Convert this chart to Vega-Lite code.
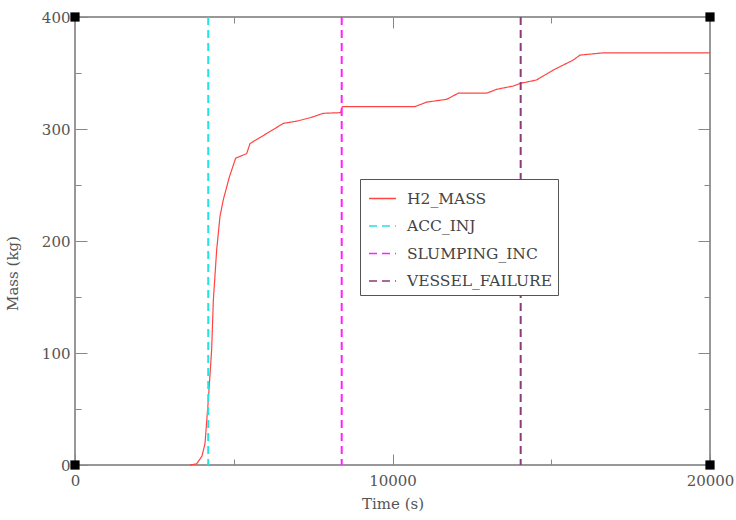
{
  "$schema": "https://vega.github.io/schema/vega-lite/v6.json",
  "width": 635,
  "height": 448,
  "autosize": {"type": "none"},
  "padding": {"left": 75, "top": 17, "right": 26, "bottom": 55},
  "background": "white",
  "datasets": {
    "h2": [
      {"t": 3620, "m": 0, "s": "H2_MASS"},
      {"t": 3830, "m": 1, "s": "H2_MASS"},
      {"t": 4000, "m": 8, "s": "H2_MASS"},
      {"t": 4094, "m": 19, "s": "H2_MASS"},
      {"t": 4199, "m": 58, "s": "H2_MASS"},
      {"t": 4304, "m": 103, "s": "H2_MASS"},
      {"t": 4357, "m": 147, "s": "H2_MASS"},
      {"t": 4462, "m": 192, "s": "H2_MASS"},
      {"t": 4567, "m": 222, "s": "H2_MASS"},
      {"t": 4672, "m": 237, "s": "H2_MASS"},
      {"t": 4861, "m": 257, "s": "H2_MASS"},
      {"t": 5060, "m": 274, "s": "H2_MASS"},
      {"t": 5407, "m": 278, "s": "H2_MASS"},
      {"t": 5512, "m": 287, "s": "H2_MASS"},
      {"t": 6037, "m": 296, "s": "H2_MASS"},
      {"t": 6562, "m": 305, "s": "H2_MASS"},
      {"t": 6982, "m": 307, "s": "H2_MASS"},
      {"t": 7402, "m": 310, "s": "H2_MASS"},
      {"t": 7822, "m": 314, "s": "H2_MASS"},
      {"t": 8367, "m": 314.6, "s": "H2_MASS"},
      {"t": 8420, "m": 320, "s": "H2_MASS"},
      {"t": 10709, "m": 320, "s": "H2_MASS"},
      {"t": 11076, "m": 324, "s": "H2_MASS"},
      {"t": 11706, "m": 326.5, "s": "H2_MASS"},
      {"t": 12073, "m": 332, "s": "H2_MASS"},
      {"t": 12966, "m": 332, "s": "H2_MASS"},
      {"t": 13281, "m": 335.4, "s": "H2_MASS"},
      {"t": 13806, "m": 338.4, "s": "H2_MASS"},
      {"t": 14037, "m": 340.8, "s": "H2_MASS"},
      {"t": 14541, "m": 343.8, "s": "H2_MASS"},
      {"t": 15066, "m": 352.7, "s": "H2_MASS"},
      {"t": 15696, "m": 361.6, "s": "H2_MASS"},
      {"t": 15906, "m": 366, "s": "H2_MASS"},
      {"t": 16640, "m": 368, "s": "H2_MASS"},
      {"t": 20000, "m": 368, "s": "H2_MASS"}
    ],
    "events": [
      {"t": 4196, "s": "ACC_INJ"},
      {"t": 8400, "s": "SLUMPING_INC"},
      {"t": 14037, "s": "VESSEL_FAILURE"}
    ],
    "corners": [
      {"t": 0, "m": 0},
      {"t": 0, "m": 400},
      {"t": 20000, "m": 0},
      {"t": 20000, "m": 400}
    ]
  },
  "resolve": {"scale": {"x": "independent", "y": "independent"}, "axis": {"x": "independent", "y": "independent"}},
  "layer": [
    {
      "data": {"name": "h2"},
      "mark": {"type": "line", "strokeWidth": 1.2, "interpolate": "linear"},
      "encoding": {
        "x": {"field": "t", "type": "quantitative", "scale": {"domain": [0, 20000], "nice": false},
          "axis": {"orient": "bottom", "values": [0, 10000, 20000], "ticks": true, "tickSize": -11, "labelPadding": 19, "title": "Time (s)", "titlePadding": 8, "format": "d", "labelFlush": false}},
        "y": {"field": "m", "type": "quantitative", "scale": {"domain": [0, 400], "nice": false},
          "axis": {"orient": "left", "values": [0, 100, 200, 300, 400], "ticks": true, "tickSize": -12, "labelPadding": 17, "title": "Mass (kg)", "titleY": 256, "titleX": -55, "labelFlush": false}},
        "color": {"field": "s", "type": "nominal", "title": null,
          "scale": {"domain": ["H2_MASS", "ACC_INJ", "SLUMPING_INC", "VESSEL_FAILURE"], "range": ["#ff4444", "#22e4e4", "#ff22ff", "#8b3a7a"]}},
        "strokeDash": {"field": "s", "type": "nominal", "title": null,
          "scale": {"domain": ["H2_MASS", "ACC_INJ", "SLUMPING_INC", "VESSEL_FAILURE"], "range": [[1, 0], [8, 5], [8, 5], [8, 5]]}}
      }
    },
    {
      "data": {"name": "events"},
      "mark": {"type": "rule", "strokeWidth": 2},
      "encoding": {
        "x": {"field": "t", "type": "quantitative", "scale": {"domain": [0, 20000], "nice": false},
          "axis": {"orient": "bottom", "values": [5000, 15000], "labelColor": "#ffffff", "labelFontSize": 8, "title": null, "ticks": true, "tickSize": 6, "offset": -6}},
        "color": {"field": "s", "type": "nominal"},
        "strokeDash": {"field": "s", "type": "nominal"}
      }
    },
    {
      "data": {"name": "corners"},
      "mark": {"type": "point", "shape": "square", "filled": true, "color": "black", "size": 85, "opacity": 1},
      "encoding": {
        "x": {"field": "t", "type": "quantitative", "scale": {"domain": [0, 20000], "nice": false},
          "axis": {"orient": "top", "values": [10000], "labelColor": "#ffffff", "labelFontSize": 8, "title": null, "ticks": true, "tickSize": 11, "offset": -11}},
        "y": {"field": "m", "type": "quantitative", "scale": {"domain": [0, 400], "nice": false},
          "axis": {"orient": "right", "values": [100, 200, 300], "labelColor": "#ffffff", "labelFontSize": 8, "title": null, "ticks": true, "tickSize": 12, "offset": -12}}
      }
    },
    {
      "data": {"name": "corners"},
      "mark": {"type": "point", "opacity": 0},
      "encoding": {
        "x": {"field": "t", "type": "quantitative", "scale": {"domain": [0, 20000], "nice": false},
          "axis": {"orient": "top", "values": [5000, 15000], "labelColor": "#ffffff", "labelFontSize": 8, "title": null, "ticks": true, "tickSize": 6, "offset": -6}},
        "y": {"field": "m", "type": "quantitative", "scale": {"domain": [0, 400], "nice": false},
          "axis": {"orient": "right", "values": [50, 150, 250, 350], "labelColor": "#ffffff", "labelFontSize": 8, "title": null, "ticks": true, "tickSize": 6, "offset": -6}}
      }
    },
    {
      "data": {"name": "corners"},
      "mark": {"type": "point", "opacity": 0},
      "encoding": {
        "y": {"field": "m", "type": "quantitative", "scale": {"domain": [0, 400], "nice": false},
          "axis": {"orient": "left", "values": [50, 150, 250, 350], "labelColor": "#ffffff", "labelFontSize": 8, "title": null, "ticks": true, "tickSize": 6, "offset": -6}}
      }
    }
  ],
  "config": {
    "view": {"stroke": "#777", "strokeWidth": 1.5},
    "font": "DejaVu Serif",
    "axis": {"labelFont": "DejaVu Serif", "titleFont": "DejaVu Serif", "labelColor": "#555", "titleColor": "#555", "labelFontSize": 15, "titleFontSize": 15, "titleFontWeight": "normal", "grid": false, "domain": false},
    "legend": {"orient": "none", "legendX": 285, "legendY": 162, "strokeColor": "#555", "padding": 5, "symbolOffset": 3, "symbolType": "stroke", "symbolSize": 729, "symbolStrokeWidth": 1.5, "labelFont": "DejaVu Serif", "labelFontSize": 15.5, "labelColor": "#444", "labelOffset": 10, "rowPadding": 4.5, "fillColor": "white"}
  }
}
